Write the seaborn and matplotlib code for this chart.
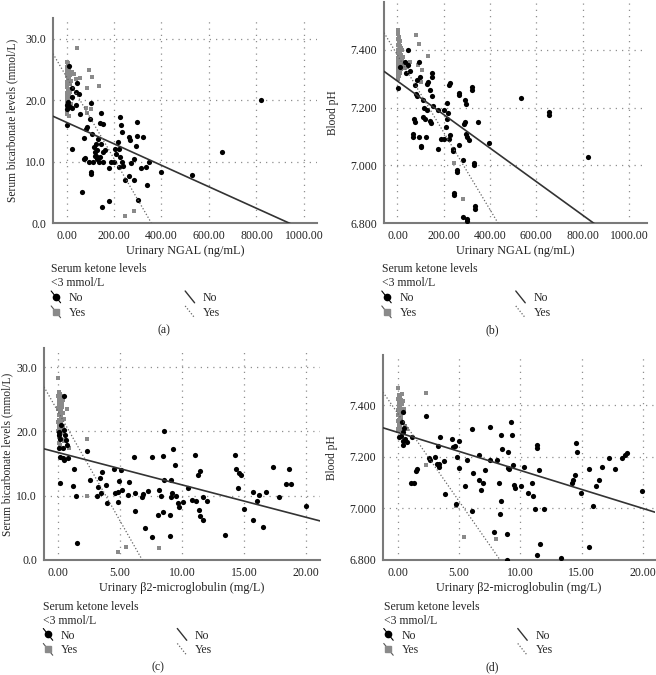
import numpy as np
import pandas as pd
import matplotlib
matplotlib.use('Agg')
import matplotlib.pyplot as plt
import seaborn as sns
from matplotlib.lines import Line2D
from matplotlib.legend_handler import HandlerBase

# ---- (a) NGAL vs bicarbonate ----
a_no_x = [11, 45, 52, 39, 25, 21, 7, 0, 3, 8, 21, 39, 56, 4, 102, 98, 84, 88, 73, 24, 109, 124, 116, 122,
          126, 140, 133, 147, 152, 140, 145, 154, 74, 95, 112, 138, 154, 101, 102, 67, 150, 178, 178, 187,
          201, 204, 208, 218, 221, 225, 228, 235, 225, 222, 232, 239, 246, 262, 264, 267, 272, 285, 285,
          292, 298, 298, 299, 312, 323, 333, 337, 348, 397, 530, 653, 818, 120, 130, 128, 160, 78, 10]
a_no_y = [25.6, 22.8, 21.1, 21.3, 22.0, 20.5, 19.7, 18.6, 19.2, 18.9, 18.8, 19.3, 17.8, 15.9, 19.6, 16.9,
          15.4, 15.7, 13.8, 12.1, 14.5, 12.9, 12.4, 11.6, 11.0, 10.8, 13.7, 18.0, 16.1, 16.3, 12.9, 11.6,
          10.5, 9.9, 9.9, 9.9, 9.9, 8.3, 8.0, 5.0, 2.6, 3.6, 8.9, 9.9, 9.9, 12.1, 11.3, 13.2, 12.0, 17.3,
          15.9, 14.8, 10.8, 9.1, 9.9, 9.3, 7.0, 7.7, 14.0, 13.6, 9.7, 10.4, 7.0, 12.6, 16.4, 14.2, 3.8,
          9.0, 14.0, 9.2, 6.2, 9.9, 8.3, 7.8, 11.5, 20.0, 10.9, 10.5, 11.9, 11.9, 10.6, 19.0]
a_yes_x = [45, 95, 107, 88, 135, 56, 81, 87, 102, 246, 283, 30, 38, 25,
           2, 6, 1, 9, 4, 12, 3, 7, 15, 1, 10, 5, 18, 2, 8, 13, 4, 1, 11, 6, 16, 3, 9, 1, 14, 5,
           2, 8, 20, 3, 11, 6, 1, 4, 9, 2, 7, 12, 0, 5]
a_yes_y = [28.5, 24.9, 23.8, 22.0, 22.3, 23.6, 18.8, 17.9, 18.6, 1.1, 1.9, 24.2, 23.5, 24.6,
           26.2, 25.9, 25.5, 25.3, 25.0, 24.8, 24.5, 24.3, 24.1, 23.9, 23.6, 23.4, 23.2, 23.0, 22.8,
           22.6, 22.3, 22.1, 21.9, 21.7, 21.4, 21.2, 21.0, 20.7, 20.5, 20.3, 20.0, 19.7, 19.4, 19.1,
           18.8, 18.5, 18.2, 17.8, 17.4, 24.0, 21.5, 23.0, 19.5, 26.0]
a_fit_no = [16.4, -0.0175]
a_fit_yes = [23.8, -0.0666]

# ---- (b) NGAL vs blood pH ----
b_no_x = [4, 44, 11, 47, 37, 54, 32, 94, 97, 86, 76, 80, 86, 73, 74, 68, 68, 94, 100, 102, 124, 111, 116,
          126, 109, 121, 142, 144, 148, 148, 134, 126, 142, 148, 155, 176, 176, 187, 202, 201, 209, 212,
          216, 219, 222, 229, 226, 224, 238, 240, 245, 245, 259, 259, 266, 265, 266, 284, 284, 292, 287,
          292, 295, 296, 299, 311, 299, 299, 324, 324, 330, 330, 334, 334, 348, 396, 532, 654, 654, 821]
b_no_y = [7.269, 7.400, 7.342, 7.348, 7.319, 7.328, 7.357, 7.357, 7.307, 7.296, 7.278, 7.246, 7.240,
          7.162, 7.150, 7.107, 7.099, 7.099, 7.068, 7.062, 7.099, 7.226, 7.200, 7.191, 7.168, 7.162,
          7.154, 7.148, 7.319, 7.307, 7.290, 7.281, 7.261, 7.240, 7.205, 7.191, 7.058, 7.090, 7.090,
          7.191, 7.134, 7.162, 7.217, 7.180, 7.278, 7.286, 7.105, 7.090, 7.056, 7.050, 6.904, 6.896,
          6.985, 6.977, 7.070, 7.252, 7.244, 7.020, 6.821, 7.151, 7.142, 7.228, 7.211, 7.110, 7.099,
          7.087, 6.807, 6.814, 7.270, 7.261, 7.008, 7.000, 6.858, 6.850, 7.149, 7.079, 7.233, 7.186,
          7.174, 7.029]
b_yes_x = [1, 80, 94, 134, 54, 87, 105, 100, 28, 244, 284, 40,
           3, 8, 2, 12, 5, 1, 10, 16, 4, 20, 7, 2, 14, 9, 25, 3, 18, 6, 1, 11, 22, 4, 8, 2, 15, 5, 1,
           10, 3, 6, 2, 1, 13, 7, 19]
b_yes_y = [7.469, 7.450, 7.420, 7.379, 7.359, 7.348, 7.330, 7.290, 7.336, 7.008, 6.882, 7.340,
           7.455, 7.445, 7.438, 7.430, 7.424, 7.418, 7.412, 7.406, 7.401, 7.398, 7.394, 7.388, 7.384,
           7.379, 7.376, 7.372, 7.368, 7.364, 7.360, 7.355, 7.351, 7.347, 7.343, 7.338, 7.334, 7.330,
           7.325, 7.320, 7.315, 7.310, 7.305, 7.300, 7.396, 7.428, 7.360]
b_fit_no = [7.292, -0.000581]
b_fit_yes = [7.382, -0.00134]

# ---- (c) beta2-microglobulin vs bicarbonate ----
c_no_x = [0.48, 0.24, 0.48, 0.10, 0.10, 0.16, 0.56, 0.65, 0.70, 0.10, 0.43, 0.16, 0.38, 0.51, 0.78, 0.16,
          2.37, 1.29, 1.18, 1.42, 1.56, 2.58, 3.12, 3.25, 3.39, 3.52, 3.44, 3.87, 3.98, 4.54, 4.60, 4.81,
          4.87, 4.95, 5.05, 5.13, 5.67, 5.75, 6.13, 6.21, 6.21, 6.75, 6.83, 7.02, 7.23, 7.61, 7.61, 8.04,
          8.15, 8.28, 8.49, 8.55, 8.49, 8.58, 9.03, 9.03, 9.09, 9.17, 9.11, 9.30, 9.44, 9.49, 9.65, 9.76,
          10.1, 10.5, 10.8, 11.05, 11.13, 11.32, 11.37, 11.45, 11.45, 11.67, 11.72, 12.04, 13.47, 14.27,
          14.33, 14.49, 14.62, 14.73, 15.03, 15.70, 15.70, 16.02, 16.24, 16.56, 16.75, 17.37, 17.82,
          18.36, 18.60, 18.82, 20.0]
c_no_y = [25.6, 21.0, 20.2, 19.9, 19.4, 18.8, 19.4, 18.7, 17.9, 17.4, 17.4, 16.0, 15.8, 15.5, 15.8, 12.0,
          16.9, 14.1, 11.5, 10.0, 2.6, 12.4, 10.0, 11.4, 12.8, 13.7, 10.4, 11.6, 8.8, 14.1, 10.4, 10.6,
          9.0, 12.3, 14.0, 10.9, 10.1, 12.2, 16.1, 7.6, 10.4, 9.8, 10.2, 4.9, 10.8, 16.1, 3.5, 7.0, 10.9,
          10.0, 16.2, 20.0, 7.4, 12.4, 7.0, 3.7, 12.5, 10.5, 9.8, 17.2, 14.8, 9.9, 8.9, 8.3, 9.0, 11.2,
          9.3, 16.3, 9.2, 13.2, 7.8, 13.9, 6.9, 9.8, 6.2, 9.2, 3.9, 16.4, 14.1, 11.2, 13.5, 13.2, 7.9,
          10.6, 6.2, 9.2, 10.1, 5.1, 10.6, 14.5, 9.8, 11.8, 14.1, 11.8, 8.4]
c_yes_x = [0.03, 0.43, 0.56, 0.91, 2.37, 2.37, 4.87, 5.48, 8.15, 0.70, 0.50,
           0.05, 0.15, 0.02, 0.25, 0.10, 0.30, 0.06, 0.18, 0.35, 0.02, 0.22, 0.12, 0.40, 0.04, 0.20,
           0.28, 0.08, 0.03, 0.24, 0.14, 0.38, 0.07, 0.20, 0.02, 0.33, 0.11, 0.05, 0.26, 0.45, 0.09,
           0.16, 0.01, 0.30, 0.06, 0.13, 0.21]
c_yes_y = [28.4, 24.9, 18.7, 17.4, 18.8, 9.9, 1.2, 2.0, 1.8, 23.5, 22.0,
           26.2, 25.9, 25.5, 25.2, 24.9, 24.6, 24.3, 24.0, 23.8, 23.5, 23.3, 23.0, 22.8, 22.5, 22.3,
           22.0, 21.8, 21.5, 21.3, 21.0, 20.8, 20.5, 20.3, 20.0, 19.7, 19.4, 19.1, 18.8, 18.5, 18.2,
           17.9, 23.7, 24.4, 21.2, 22.6, 25.6]
c_fit_no = [16.73, -0.504]
c_fit_yes = [23.1, -3.40]

# ---- (d) beta2-microglobulin vs blood pH ----
d_no_x = [0.38, 0.35, 0.08, 0.24, 0.44, 0.38, 0.57, 0.71, 0.38, 0.49, 2.29, 1.17, 1.06, 1.31, 1.44, 1.58,
          2.53, 2.61, 3.02, 3.16, 3.32, 3.37, 3.29, 3.43, 3.76, 3.86, 4.44, 4.52, 4.65, 4.73, 4.79, 5.01,
          5.01, 5.50, 5.66, 6.04, 6.04, 6.15, 6.59, 6.64, 6.75, 6.91, 7.13, 7.51, 7.51, 7.86, 8.05, 8.22,
          8.33, 8.41, 8.44, 8.52, 8.93, 8.87, 9.00, 9.00, 9.06, 9.22, 9.28, 9.36, 9.47, 9.58, 10.01,
          10.29, 10.64, 10.91, 11.05, 11.18, 11.32, 11.32, 11.32, 11.54, 11.59, 11.92, 13.31, 14.20,
          14.26, 14.45, 14.53, 14.64, 14.91, 15.62, 15.62, 15.95, 16.14, 16.44, 16.63, 17.22, 17.71,
          18.26, 18.53, 18.72, 19.95]
d_no_y = [7.375, 7.333, 7.275, 7.282, 7.295, 7.262, 7.269, 7.256, 7.246, 7.310, 7.356, 7.275, 7.098,
          7.098, 7.143, 7.153, 7.196, 7.188, 7.198, 7.173, 7.170, 7.160, 7.241, 7.278, 7.185, 7.057,
          7.269, 7.237, 7.243, 7.018, 7.198, 7.259, 7.157, 7.086, 7.188, 7.307, 6.989, 7.138, 7.208,
          7.108, 7.070, 7.098, 7.147, 7.316, 7.189, 6.909, 7.189, 7.098, 6.980, 7.286, 7.029, 7.228,
          6.899, 6.800, 7.218, 7.157, 7.151, 7.336, 7.286, 7.169, 7.089, 7.079, 7.088, 7.162, 7.059,
          7.099, 7.049, 6.999, 7.234, 7.247, 6.819, 7.149, 6.860, 6.999, 6.809, 7.099, 7.111, 7.130,
          7.253, 7.218, 7.061, 7.151, 6.851, 7.009, 7.086, 7.108, 7.162, 7.196, 7.153, 7.196, 7.207,
          7.215, 7.067]
d_yes_x = [0.00, 2.26, 0.30, 0.38, 0.49, 0.76, 2.29, 4.73, 5.41, 8.00, 0.60,
           0.05, 0.15, 0.02, 0.25, 0.10, 0.30, 0.06, 0.18, 0.35, 0.02, 0.22, 0.12, 0.04, 0.20, 0.28,
           0.08, 0.03, 0.24, 0.14, 0.07, 0.20, 0.02, 0.33, 0.11, 0.05, 0.26, 0.09, 0.16, 0.01]
d_yes_y = [7.465, 7.445, 7.442, 7.417, 7.385, 7.307, 7.166, 7.008, 6.890, 6.880, 7.320,
           7.440, 7.432, 7.425, 7.418, 7.411, 7.404, 7.398, 7.392, 7.386, 7.380, 7.374, 7.368, 7.362,
           7.356, 7.350, 7.344, 7.338, 7.332, 7.326, 7.320, 7.314, 7.308, 7.302, 7.396, 7.372, 7.352,
           7.336, 7.410, 7.300]
d_fit_no = [7.294, -0.01472]
d_fit_yes = [7.367, -0.068]

ngal_ticks = [0, 200, 400, 600, 800, 1000]
b2m_ticks = [0, 5, 10, 15, 20]
bic_ticks = [0, 10, 20, 30]
ph_ticks = [6.8, 7.0, 7.2, 7.4]

sns.set_theme(style='white')
plt.rcParams['font.family'] = ['Liberation Serif', 'DejaVu Serif']

GRAY_PT = '#8a8a8a'
FS = 8.5


class DiagHandler(HandlerBase):
    """SPSS style legend key: short diagonal line, optionally with a marker on it"""
    def __init__(self, color, ls='-', lw=1.0, marker=None, mcolor='k', ms=4.5):
        super().__init__()
        self.color, self.ls, self.lw = color, ls, lw
        self.marker, self.mcolor, self.ms = marker, mcolor, ms

    def create_artists(self, legend, orig_handle, xdescent, ydescent, width, height, fontsize, trans):
        x0, x1 = -xdescent, -xdescent + width
        y0, y1 = -ydescent - 1, -ydescent + height + 1
        arts = [Line2D([x0, x1], [y1, y0], color=self.color, ls=self.ls, lw=self.lw, transform=trans)]
        if self.marker:
            arts.append(Line2D([(x0 + x1) / 2], [(y0 + y1) / 2], marker=self.marker, ms=self.ms,
                               color=self.mcolor, ls='none', transform=trans))
        return arts


def panel(rect, no_x, no_y, yes_x, yes_y, fit_no, fit_yes, xlim, ylim, xticks, yticks,
          xfmt, yfmt, xlabel, ylabel, ypad, leg_xy, cap_xy, cap):
    ax = fig.add_axes(rect)
    df_no = pd.DataFrame({'x': no_x, 'y': no_y})
    df_yes = pd.DataFrame({'x': yes_x, 'y': yes_y})
    sns.scatterplot(data=df_yes, x='x', y='y', ax=ax, color=GRAY_PT, marker='s', s=9,
                    linewidth=0, zorder=3)
    sns.scatterplot(data=df_no, x='x', y='y', ax=ax, color='black', marker='o', s=14,
                    linewidth=0, zorder=4)
    ax.set_xlim(xlim)
    ax.set_ylim(ylim)
    xs = np.array(xlim)
    ax.plot(xs, fit_no[0] + fit_no[1] * xs, color='#333333', lw=1.2, zorder=5)
    ax.plot(xs, fit_yes[0] + fit_yes[1] * xs, color='#666666', lw=0.9, ls=(0, (1, 1.6)), zorder=5)

    ax.set_xticks(xticks)
    ax.set_yticks(yticks)
    ax.set_xticklabels([xfmt.format(v) for v in xticks])
    ax.set_yticklabels([yfmt.format(v) for v in yticks])
    ax.tick_params(length=0, labelsize=FS, colors='#222222', pad=5)
    ax.grid(True, color='#8f8f8f', ls=(0, (1, 4)), lw=0.9)
    for s in ['top', 'right']:
        ax.spines[s].set_visible(False)
    for s in ['left', 'bottom']:
        ax.spines[s].set_color('#7a7a7a')
        ax.spines[s].set_linewidth(1.5)
    ax.set_xlabel(xlabel, fontsize=8.8, color='#222222', labelpad=2)
    ax.set_ylabel(ylabel, fontsize=8.3, color='#222222', labelpad=ypad)

    h1, h2, h3, h4 = Line2D([], []), Line2D([], []), Line2D([], []), Line2D([], [])
    hmap = {h1: DiagHandler('black', lw=0.8, marker='o', mcolor='black', ms=4.5),
            h2: DiagHandler('#555555', lw=0.8, marker='s', mcolor=GRAY_PT, ms=3.8),
            h3: DiagHandler('#333333', lw=1.0),
            h4: DiagHandler('#666666', ls=(0, (1, 1.5)), lw=0.9)}
    ax.legend([h1, h2, h3, h4], ['No', 'Yes', 'No', 'Yes'], handler_map=hmap, ncol=2,
              loc='upper left', bbox_to_anchor=leg_xy, bbox_transform=fig.transFigure,
              frameon=False, title='Serum ketone levels\n<3 mmol/L', alignment='left',
              fontsize=FS, title_fontsize=FS, handlelength=0.8, handleheight=0.8,
              handletextpad=0.7, columnspacing=8.4, labelspacing=0.25, borderpad=0,
              borderaxespad=0)
    fig.text(cap_xy[0], cap_xy[1], cap, ha='center', va='center', fontsize=FS, color='#222222')
    return ax


fig = plt.figure(figsize=(6.56, 6.75), dpi=100)

panel([0.0808, 0.6696, 0.4024, 0.3037], a_no_x, a_no_y, a_yes_x, a_yes_y, a_fit_no, a_fit_yes,
      (-57, 1055), (0, 33.4), ngal_ticks, bic_ticks, '{:.2f}', '{:.1f}',
      'Urinary NGAL (ng/mL)', 'Serum bicarbonate levels (mmol/L)', 5,
      (0.078, 0.610), (0.25, 1 - 330 / 675), '(a)')
panel([0.5854, 0.6696, 0.4009, 0.3274], b_no_x, b_no_y, b_yes_x, b_yes_y, b_fit_no, b_fit_yes,
      (-58, 1078), (6.8, 7.566), ngal_ticks, ph_ticks, '{:.2f}', '{:.3f}',
      'Urinary NGAL (ng/mL)', 'Blood pH', 8,
      (0.582, 0.610), (0.75, 1 - 330 / 675), '(b)')
panel([0.0671, 0.1704, 0.4207, 0.3141], c_no_x, c_no_y, c_yes_x, c_yes_y, c_fit_no, c_fit_yes,
      (-1.13, 21.13), (0, 33.0), b2m_ticks, bic_ticks, '{:.2f}', '{:.1f}',
      'Urinary β2-microglobulin (mg/L)', 'Serum bicarbonate levels (mmol/L)', 2,
      (0.066, 0.110), (0.24, 1 - 667 / 675), '(c)')
panel([0.5838, 0.1704, 0.4146, 0.3037], d_no_x, d_no_y, d_yes_x, d_yes_y, d_fit_no, d_fit_yes,
      (-1.22, 20.98), (6.8, 7.594), b2m_ticks, ph_ticks, '{:.2f}', '{:.3f}',
      'Urinary β2-microglobulin (mg/L)', 'Blood pH', 8,
      (0.585, 0.110), (0.75, 1 - 667 / 675), '(d)')

fig.savefig('out.png', dpi=100)
